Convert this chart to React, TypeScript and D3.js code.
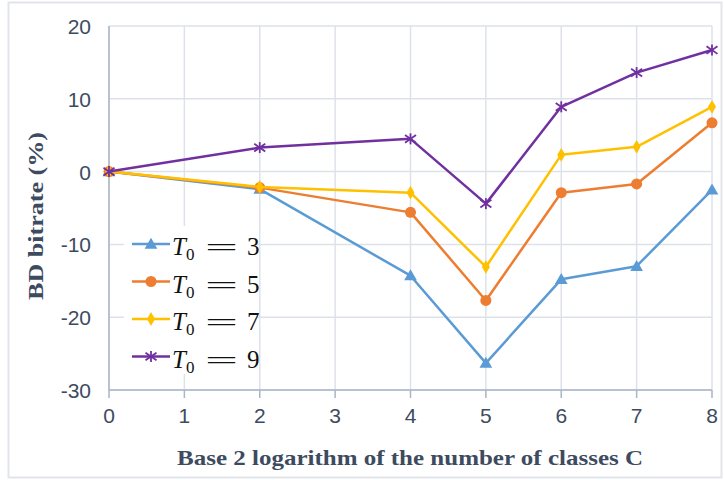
import React from "react";
import * as d3 from "d3";

// x positions: base 2 log of number of classes
const xValues = [0, 2, 4, 5, 6, 7, 8];
const t3 = [0, -2.4, -14.3, -26.3, -14.8, -13.0, -2.5];
const t5 = [0, -2.2, -5.6, -17.7, -2.9, -1.7, 6.7];
const t7 = [0, -2.1, -2.9, -13.1, 2.3, 3.4, 8.9];
const t9 = [0, 3.3, 4.5, -4.4, 8.9, 13.6, 16.7];
const seriesNames = ["3", "5", "7", "9"];
const xTicks = [0, 1, 2, 3, 4, 5, 6, 7, 8];
const yTicks = [-30, -20, -10, 0, 10, 20];

const colors = ["#5b9bd5", "#ed7d31", "#ffc000", "#7030a0"];
const shapes = ["triangle", "circle", "diamond", "star"];

const W = 724;
const H = 480;
const margin = { left: 109, right: 12, top: 26, bottom: 90 };

function Marker({ shape, x, y, color }: { shape: string; x: number; y: number; color: string }) {
  if (shape === "triangle") {
    const p = d3.symbol().type(d3.symbolTriangle).size(70)();
    return <path d={p || ""} transform={`translate(${x},${y + 1})`} fill={color} />;
  }
  if (shape === "circle") {
    return <circle cx={x} cy={y} r={5.5} fill={color} />;
  }
  if (shape === "diamond") {
    const p = d3.symbol().type(d3.symbolDiamond).size(55)();
    return <path d={p || ""} transform={`translate(${x},${y})`} fill={color} />;
  }
  const r = 5.5;
  return (
    <g stroke={color} strokeWidth={1.8} transform={`translate(${x},${y})`}>
      <line x1={-r} y1={-r * 0.7} x2={r} y2={r * 0.7} />
      <line x1={-r} y1={r * 0.7} x2={r} y2={-r * 0.7} />
      <line x1={0} y1={-r} x2={0} y2={r} />
    </g>
  );
}

export default function App() {
  const x = d3.scaleLinear().domain([0, 8]).range([margin.left, W - margin.right]);
  const y = d3.scaleLinear().domain([-30, 20]).range([H - margin.bottom, margin.top]);
  const series = [t3, t5, t7, t9];
  const line = d3
    .line<number>()
    .x((_, i) => x(xValues[i]))
    .y((d) => y(d));

  const tickColor = "#3d4b5f";
  const gridColor = "#dde2ea";
  const axisColor = "#aab5c6";
  const sans = "'Liberation Sans', Arial, sans-serif";
  const serif = "'Liberation Serif', 'Times New Roman', serif";

  const legX = 132;
  const legY0 = 244;
  const legStep = 37.5;

  return (
    <svg
      width={W}
      height={H}
      style={{ position: "absolute", left: 0, top: 0, background: "#fff" }}
    >
      <rect x={8.5} y={2.5} width={713} height={475} fill="#fff" stroke="#e1e5ea" strokeWidth={2} />
      {/* grid */}
      {xTicks.map((t) => (
        <line key={"gx" + t} x1={x(t)} x2={x(t)} y1={y(20)} y2={y(-30)} stroke={gridColor} strokeWidth={1.5} />
      ))}
      {yTicks.map((t) => (
        <line key={"gy" + t} x1={x(0)} x2={x(8)} y1={y(t)} y2={y(t)} stroke={gridColor} strokeWidth={1.5} />
      ))}
      {/* axes */}
      <line x1={x(0)} x2={x(0)} y1={y(20)} y2={y(-30)} stroke={axisColor} strokeWidth={1.5} />
      <line x1={x(0)} x2={x(8)} y1={y(-30)} y2={y(-30)} stroke={axisColor} strokeWidth={1.5} />
      {xTicks.map((t) => (
        <line key={"tx" + t} x1={x(t)} x2={x(t)} y1={y(-30)} y2={y(-30) + 8} stroke={axisColor} strokeWidth={1.5} />
      ))}
      {xTicks.map((t) => (
        <text key={"lx" + t} x={x(t)} y={y(-30) + 33} textAnchor="middle" fontFamily={sans} fontSize={21} fill={tickColor}>
          {t}
        </text>
      ))}
      {yTicks.map((t) => (
        <text key={"ly" + t} x={91} y={y(t) + 8} textAnchor="end" fontFamily={sans} fontSize={21} fill={tickColor}>
          {t}
        </text>
      ))}
      {/* axis titles */}
      <text
        x={177}
        y={465}
        fontFamily={serif}
        fontWeight="bold"
        fontSize={22}
        fill={tickColor}
        textLength={466}
        lengthAdjust="spacingAndGlyphs"
      >
        Base 2 logarithm of the number of classes C
      </text>
      <text
        transform="translate(43,300) rotate(-90)"
        fontFamily={serif}
        fontWeight="bold"
        fontSize={22}
        fill={tickColor}
        textLength={168}
        lengthAdjust="spacingAndGlyphs"
      >
        BD bitrate (%)
      </text>
      {/* series */}
      {series.map((s, si) => (
        <g key={"s" + si}>
          <path d={line(s) || ""} fill="none" stroke={colors[si]} strokeWidth={2.5} strokeLinejoin="round" />
          {s.map((v, i) => (
            <Marker key={i} shape={shapes[si]} x={x(xValues[i])} y={y(v)} color={colors[si]} />
          ))}
        </g>
      ))}
      {/* legend */}
      <rect x={124} y={226} width={133} height={148} fill="#fff" />
      {seriesNames.map((n, i) => {
        const ly = legY0 + i * legStep;
        return (
          <g key={"leg" + i}>
            <line x1={legX} x2={legX + 38} y1={ly} y2={ly} stroke={colors[i]} strokeWidth={2.5} />
            <Marker shape={shapes[i]} x={legX + 19} y={ly} color={colors[i]} />
            <text x={172} y={ly + 11} fontFamily={serif} fontSize={25} fill="#111">
              <tspan fontStyle="italic">T</tspan>
              <tspan fontSize={17} dy={5}>0</tspan>
            </text>
            <text
              x={205}
              y={ly + 12}
              fontFamily={serif}
              fontSize={25}
              fill="#111"
              textLength={33}
              lengthAdjust="spacingAndGlyphs"
            >
              =
            </text>
            <text x={247} y={ly + 11} fontFamily={serif} fontSize={25} fill="#111">
              {n}
            </text>
          </g>
        );
      })}
    </svg>
  );
}
